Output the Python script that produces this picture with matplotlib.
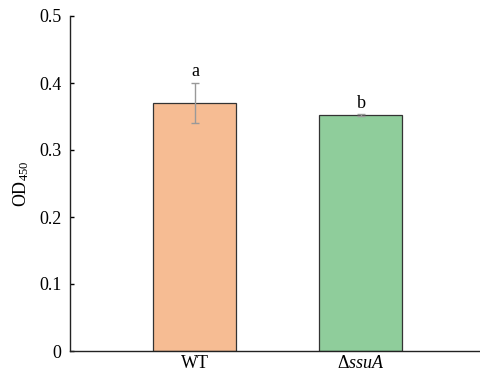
import numpy as np
import matplotlib.pyplot as plt

plt.rcParams["font.family"] = "Liberation Serif"
plt.rcParams["mathtext.fontset"] = "custom"
plt.rcParams["mathtext.rm"] = "Liberation Serif"
plt.rcParams["mathtext.it"] = "Liberation Serif:italic"

strains = ["WT", r"$\Delta\it{ssuA}$"]
od450 = [0.370, 0.352]
od450_err = [0.030, 0.0012]
letters = ["a", "b"]
colors = ["#f6bc93", "#8fcd9b"]

fig = plt.figure(figsize=(4.8, 3.76), dpi=100)
ax = fig.add_axes([70 / 480, 25 / 376, 410 / 480, 335 / 376])

x = np.arange(len(strains))
ax.bar(x, od450, width=0.5, color=colors, edgecolor="#333333", linewidth=0.9, zorder=2)
ax.errorbar(x, od450, yerr=od450_err, fmt="none", ecolor="#999999",
            elinewidth=1.0, capsize=3, capthick=1.0, zorder=3)

for xi, v, e, lab in zip(x, od450, od450_err, letters):
    ax.text(xi, v + e + 0.004, lab, ha="center", va="bottom", fontsize=13)

ax.set_xlim(-0.753, 1.717)
ax.set_ylim(0, 0.5)
ax.set_yticks([0, 0.1, 0.2, 0.3, 0.4, 0.5])
ax.set_yticklabels(["0", "0.1", "0.2", "0.3", "0.4", "0.5"])
ax.set_xticks(x)
ax.set_xticklabels(strains)
ax.tick_params(axis="y", direction="in", length=3, width=1, labelsize=13, pad=6)
ax.tick_params(axis="x", length=0, labelsize=13, pad=3)
ax.set_ylabel("OD$_{450}$", fontsize=13, labelpad=6)

for side in ["top", "right"]:
    ax.spines[side].set_visible(False)
for side in ["left", "bottom"]:
    ax.spines[side].set_linewidth(1.0)
    ax.spines[side].set_color("#222222")

fig.savefig("out.png", dpi=100)
